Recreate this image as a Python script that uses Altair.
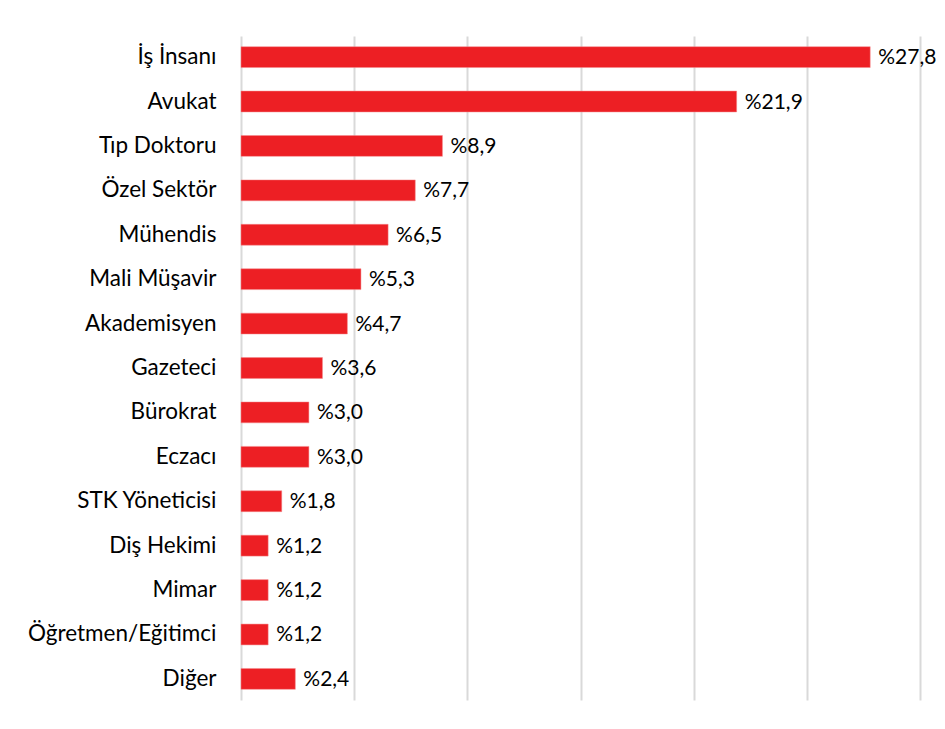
import altair as alt
import pandas as pd

categories = ["İş İnsanı", "Avukat", "Tıp Doktoru", "Özel Sektör", "Mühendis",
              "Mali Müşavir", "Akademisyen", "Gazeteci", "Bürokrat", "Eczacı",
              "STK Yöneticisi", "Diş Hekimi", "Mimar", "Öğretmen/Eğitimci", "Diğer"]
values = [27.8, 21.9, 8.9, 7.7, 6.5, 5.3, 4.7, 3.6, 3.0, 3.0, 1.8, 1.2, 1.2, 1.2, 2.4]
labels = ["%" + f"{v:.1f}".replace(".", ",") for v in values]

df = pd.DataFrame({"cat": categories, "val": values, "lab": labels})

FONT = "Lato"

y_enc = alt.Y("cat:N", sort=categories, title=None,
              scale=alt.Scale(paddingInner=0.53, paddingOuter=0.24),
              axis=alt.Axis(domain=False, ticks=False, labelFontSize=22.5,
                            labelColor="#000000", labelFont=FONT,
                            labelPadding=25, labelLimit=300))
x_enc = alt.X("val:Q", title=None,
              scale=alt.Scale(domain=[0, 30], nice=False),
              axis=alt.Axis(values=[0, 5, 10, 15, 20, 25, 30], labels=False,
                            ticks=False, domain=False, grid=True,
                            gridColor="#d9d9d9", gridWidth=2))

bars = alt.Chart(df).mark_bar(color="#ED1F24", stroke="#F48A8D", strokeWidth=0.5).encode(
    x=x_enc, y=y_enc)

text = alt.Chart(df).mark_text(align="left", baseline="middle", dx=8, dy=1, fontSize=21,
                               font=FONT, color="#000000").encode(
    x="val:Q", y=alt.Y("cat:N", sort=categories), text="lab:N")

chart = (bars + text).properties(
    width=679, height=664,
    autosize=alt.AutoSizeParams(type="none"),
    padding={"left": 233, "top": 28, "right": 17, "bottom": 10},
    background="#ffffff",
).configure_view(stroke=None)

chart.save("out.html", embed_options={"renderer": "svg", "actions": False})
